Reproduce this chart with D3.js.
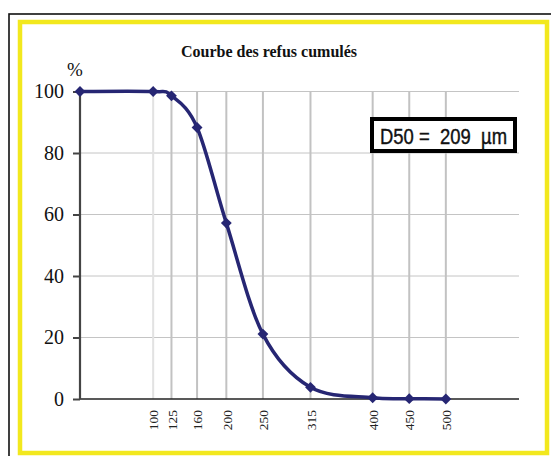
<!DOCTYPE html>
<html><head><meta charset="utf-8">
<script src="https://cdn.jsdelivr.net/npm/d3@7"></script>
<style>body{margin:0;background:#fff}svg{display:block}</style>
</head><body>
<script>
const sieves = [0, 100, 125, 160, 200, 250, 315, 400, 450, 500];
const refus = [100, 100, 98.6, 88.3, 57.2, 21.1, 3.8, 0.4, 0.1, 0];
const xTickValues = [100, 125, 160, 200, 250, 315, 400, 450, 500];
const yTickValues = [0, 20, 40, 60, 80, 100];
const title = "Courbe des refus cumulés";
const d50Label = "D50 =\u00a0\u00a0209\u00a0\u00a0µm";

const W = 551, H = 456;
const svg = d3.select("body").append("svg").attr("width", W).attr("height", H);

// frames
svg.append("rect").attr("x", 9).attr("y", 14).attr("width", 560).attr("height", 460)
  .attr("fill", "none").attr("stroke", "#111").attr("stroke-width", 1.6);
svg.append("rect").attr("x", 20).attr("y", 22).attr("width", 527).attr("height", 431)
  .attr("fill", "#fff").attr("stroke", "#f2e81e").attr("stroke-width", 4.5);

const x = d3.scaleLinear().domain([0, 600]).range([80, 519]);
const y = d3.scaleLinear().domain([0, 100]).range([399, 91.5]);

// horizontal gridlines
svg.append("g").selectAll("line").data(yTickValues.filter(d => d > 0)).join("line")
  .attr("x1", x(0)).attr("x2", x(600)).attr("y1", d => y(d)).attr("y2", d => y(d))
  .attr("stroke", "#c4c4c4").attr("stroke-width", 1);

// vertical lines at sieves
svg.append("g").selectAll("line").data(xTickValues).join("line")
  .attr("x1", d => x(d)).attr("x2", d => x(d)).attr("y1", y(0)).attr("y2", y(100))
  .attr("stroke", d => d === 100 ? "#e2e2e2" : "#c2c2c2").attr("stroke-width", 2);

// x axis
const xAxis = d3.axisBottom(x).tickValues(xTickValues).tickSize(0).tickFormat(d3.format("d"));
const gx = svg.append("g").attr("transform", `translate(0,${y(0)})`).call(xAxis);
gx.select(".domain").remove();
gx.selectAll("text").attr("transform", "rotate(-90)").attr("x", -11).attr("y", 0).attr("dy", "0.35em")
  .attr("text-anchor", "end").attr("font-family", "Liberation Serif, Times New Roman, serif")
  .attr("font-size", 13.5).attr("fill", "#222");
svg.append("line").attr("x1", x(0)).attr("x2", x(600)).attr("y1", y(0)).attr("y2", y(0))
  .attr("stroke", "#222").attr("stroke-width", 1.5);

// y axis
const yAxis = d3.axisLeft(y).tickValues(yTickValues).tickSize(7).tickPadding(9);
const gy = svg.append("g").attr("transform", `translate(${x(0)},0)`).call(yAxis);
gy.select(".domain").attr("stroke", "#444").attr("stroke-width", 2.2).attr("d", `M0,${y(0)}V${y(100)}`);
gy.selectAll(".tick line").attr("stroke", "#444").attr("stroke-width", 2);
gy.selectAll("text").attr("font-family", "Liberation Serif, Times New Roman, serif")
  .attr("font-size", 20).attr("fill", "#111");

// title and unit
svg.append("text").attr("x", 269).attr("y", 57).attr("text-anchor", "middle")
  .attr("font-family", "Liberation Serif, Times New Roman, serif").attr("font-weight", "bold")
  .attr("font-size", 16).attr("fill", "#111").text(title);
svg.append("text").attr("x", 75).attr("y", 76).attr("text-anchor", "middle")
  .attr("font-family", "Liberation Serif, Times New Roman, serif")
  .attr("font-size", 19).attr("fill", "#111").text("%");

// curve
const data = sieves.map((s, i) => ({s, v: refus[i]}));
const line = d3.line().x(d => x(d.s)).y(d => y(d.v)).curve(d3.curveCardinal.tension(0));
svg.append("path").datum(data).attr("d", line).attr("fill", "none")
  .attr("stroke", "#262673").attr("stroke-width", 3.5);
svg.append("g").selectAll("path").data(data).join("path")
  .attr("transform", d => `translate(${x(d.s)},${y(d.v)})`)
  .attr("d", d3.symbol(d3.symbolDiamond2, 75)).attr("fill", "#262673");

// D50 box
svg.append("rect").attr("x", 372).attr("y", 119).attr("width", 143).attr("height", 32)
  .attr("fill", "#fff").attr("stroke", "#000").attr("stroke-width", 4);
svg.append("text").attr("x", 380).attr("y", 144).attr("textLength", 127).attr("lengthAdjust", "spacingAndGlyphs")
  .attr("font-family", "Liberation Sans, Arial, sans-serif").attr("font-size", 22)
  .attr("fill", "#111").attr("stroke", "#111").attr("stroke-width", 0.4).text(d50Label);
</script>
</body></html>
